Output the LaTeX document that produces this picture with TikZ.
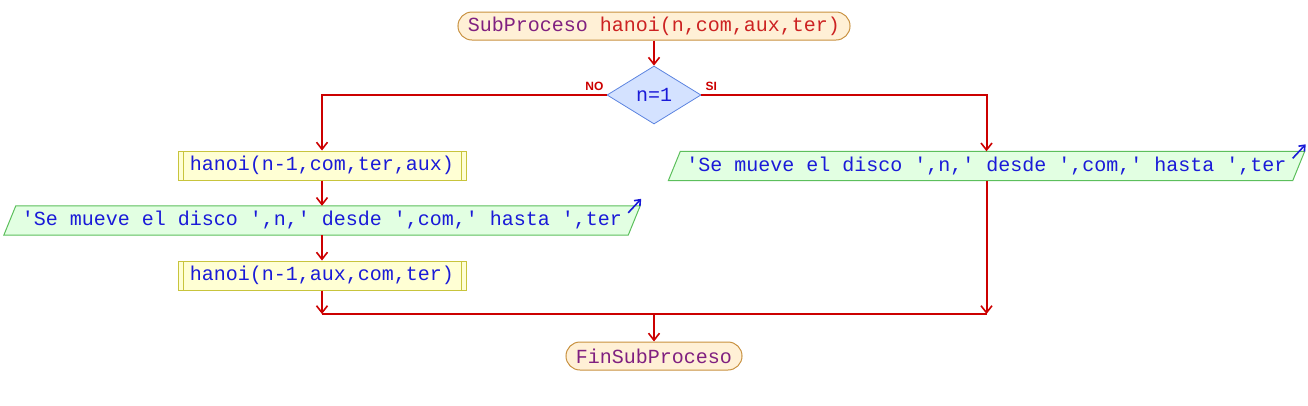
\documentclass[tikz,border=0pt]{standalone}
\usepackage{fontspec}
\usepackage{xcolor}
\usetikzlibrary{shapes.geometric,arrows.meta,backgrounds}
\newfontfamily\psmono{Liberation Mono}
\newfontfamily\pslabel{Liberation Sans}

\definecolor{flowred}{HTML}{CC0000}
\definecolor{termfill}{HTML}{FFF0D6}
\definecolor{termline}{HTML}{C8913F}
\definecolor{kwpurple}{HTML}{802080}
\definecolor{fnred}{HTML}{CC2222}
\definecolor{condfill}{HTML}{D4E2FF}
\definecolor{condline}{HTML}{5C84E0}
\definecolor{txtblue}{HTML}{1A1AD8}
\definecolor{procfill}{HTML}{FFFFD4}
\definecolor{procline}{HTML}{C8C43C}
\definecolor{iofill}{HTML}{E2FFE2}
\definecolor{ioline}{HTML}{5CBF5C}

\begin{document}
\begin{tikzpicture}[x=1pt, y=-1pt,
    code/.style={font=\psmono\fontsize{20}{24}\selectfont},
    term/.style={code, draw=termline, line width=1pt, fill=termfill, rectangle, rounded corners=14pt, minimum height=28pt, inner xsep=10pt, inner ysep=0pt},
    cond/.style={code, text=txtblue, draw=condline, line width=0.8pt, fill=condfill, diamond, aspect=1.62, minimum width=94pt, minimum height=58pt, inner sep=0pt},
    proc/.style={code, text=txtblue, draw=procline, line width=1pt, fill=procfill, rectangle, minimum width=288pt, minimum height=29pt, inner sep=0pt,
      path picture={\draw[procline, line width=1pt] ([xshift=5pt]path picture bounding box.north west) -- ([xshift=5pt]path picture bounding box.south west);
        \draw[procline, line width=1pt] ([xshift=-5pt]path picture bounding box.north east) -- ([xshift=-5pt]path picture bounding box.south east);}},
    iobox/.style={code, text=txtblue, rectangle, minimum width=624pt, minimum height=29pt, inner sep=0pt},
    ioshape/.style={draw=ioline, line width=1pt, fill=iofill},
    lbl/.style={font=\pslabel\bfseries\fontsize{12}{12}\selectfont, text=flowred, inner sep=0pt},
    line/.style={flowred, line width=2pt},
    arrow/.style={line, -{Straight Barb[length=7pt, width=11pt, line width=1.6pt]}},
    outarrow/.style={txtblue, line width=1.6pt, -{Straight Barb[length=5pt, width=8pt]}}
  ]
    \useasboundingbox (0,0) rectangle (1308,405);

    % Nodes
    \node[term] (start) at (654,26) {\textcolor{kwpurple}{SubProceso} \textcolor{fnred}{hanoi(n,com,aux,ter)}};
    \node[cond] (cond) at (654,95) {n=1};
    \node[lbl, anchor=south east] (no) at ([xshift=-3pt, yshift=4pt]cond.west) {NO};
    \node[lbl, anchor=south west] (si) at ([xshift=4pt, yshift=4pt]cond.east) {SI};

    % Branch NO
    \node[proc] (hanoiA) at (322,165.5) {hanoi(n-1,com,ter,aux)};
    \node[iobox] (writeA) at (322,220.5) {'Se mueve el disco ',n,' desde ',com,' hasta ',ter};
    \node[proc] (hanoiB) at (322,275.5) {hanoi(n-1,aux,com,ter)};

    % Branch SI
    \node[iobox] (writeB) at (986.5,166) {'Se mueve el disco ',n,' desde ',com,' hasta ',ter};

    % End
    \coordinate (join) at (654,314);
    \node[term] (fin) at (654,356) {\textcolor{kwpurple}{FinSubProceso}};

    % Output shapes
    \begin{scope}[on background layer]
      \foreach \w in {writeA,writeB}
        \filldraw[ioshape] ([xshift=-6pt]\w.south west) -- ([xshift=6pt]\w.north west)
          -- ([xshift=6pt]\w.north east) -- ([xshift=-6pt]\w.south east) -- cycle;
    \end{scope}
    \draw[outarrow] ([xshift=-6pt, yshift=-7pt]writeA.north east) -- ([xshift=7pt, yshift=7pt]writeA.north east);
    \draw[outarrow] ([xshift=-6pt, yshift=-7pt]writeB.north east) -- ([xshift=7pt, yshift=7pt]writeB.north east);

    % Arrows
    \draw[arrow] (start.south) -- (cond.north);
    \draw[arrow] (cond.west) -| (hanoiA.north);
    \draw[arrow] (cond.east) -| (writeB.north);
    \draw[arrow] (hanoiA.south) -- (writeA.north);
    \draw[arrow] (writeA.south) -- (hanoiB.north);

    % Merge
    \draw[arrow] (hanoiB.south) -- (hanoiB.south |- join);
    \draw[arrow] (writeB.south) -- (writeB.south |- join);
    \draw[line, line width=2.6pt] (hanoiB.south |- join) -- (writeB.south |- join);
    \draw[arrow] (join) -- (fin.north);
\end{tikzpicture}
\end{document}
